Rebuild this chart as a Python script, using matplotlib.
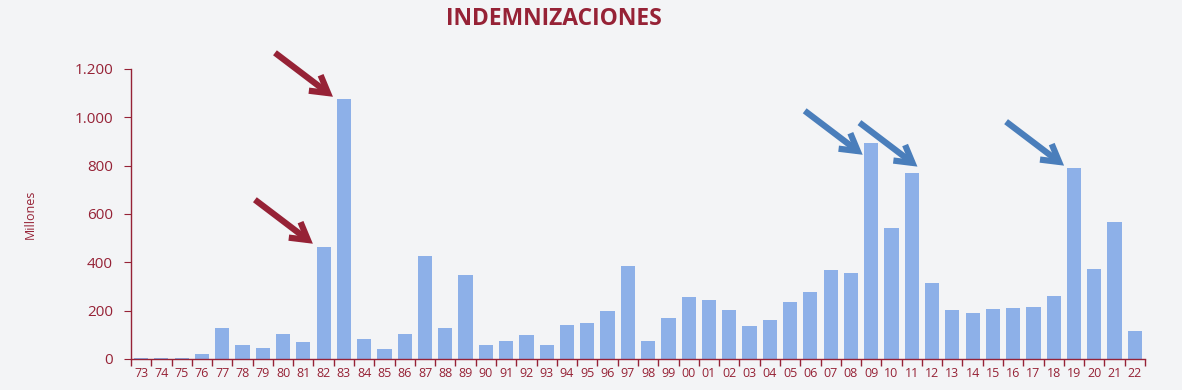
import numpy as np
import matplotlib
matplotlib.use("Agg")
import matplotlib.pyplot as plt
from matplotlib.ticker import FuncFormatter

# Indemnizaciones (millones), 1973-2022
years = ["73", "74", "75", "76", "77", "78", "79", "80", "81", "82",
         "83", "84", "85", "86", "87", "88", "89", "90", "91", "92",
         "93", "94", "95", "96", "97", "98", "99", "00", "01", "02",
         "03", "04", "05", "06", "07", "08", "09", "10", "11", "12",
         "13", "14", "15", "16", "17", "18", "19", "20", "21", "22"]
values = [3, 3, 3, 22, 130, 59, 47, 105, 72, 465,
          1077, 84, 43, 105, 428, 130, 349, 59, 76, 100,
          59, 142, 150, 200, 386, 76, 171, 258, 246, 204,
          138, 163, 237, 279, 370, 357, 895, 543, 771, 316,
          204, 192, 208, 212, 216, 262, 792, 373, 568, 117]

red_marks = ["82", "83"]
blue_marks = ["09", "11", "19"]

BG = "#F3F4F6"
BAR = "#8DB0E8"
DARK_RED = "#962236"
BLUE = "#4A7EBB"

# where each arrow tip sits relative to the bar top (x in categories, y in millones)
tip_shift = {"82": (-0.53, 12), "83": (-0.54, 8),
             "09": (-0.42, -50), "11": (0.28, 25), "19": (-0.49, 8)}

plt.rcParams["font.family"] = ["Open Sans", "DejaVu Sans"]

fig = plt.figure(figsize=(11.82, 3.90), dpi=100, facecolor=BG)
ax = fig.add_axes([0.1108, 0.0795, 0.8579, 0.7436], facecolor=BG)

x = np.arange(len(years))
ax.bar(x, values, width=0.7, color=BAR, zorder=2)

ax.set_xlim(-0.5, len(years) - 0.5)
ax.set_ylim(0, 1200)
ax.set_yticks(np.arange(0, 1201, 200))
ax.yaxis.set_major_formatter(FuncFormatter(lambda v, p: f"{int(v):,}".replace(",", ".")))

ax.set_xticks(x)
ax.set_xticklabels(years)
ax.set_xticks(np.arange(-0.5, len(years)), minor=True)
ax.tick_params(axis="x", which="major", length=0, pad=6, labelsize=9, labelcolor=DARK_RED)
ax.tick_params(axis="x", which="minor", length=5, color=DARK_RED, width=1)
ax.tick_params(axis="y", length=5, color=DARK_RED, labelsize=11, labelcolor=DARK_RED, pad=8)

for side in ["top", "right"]:
    ax.spines[side].set_visible(False)
for side in ["left", "bottom"]:
    ax.spines[side].set_color(DARK_RED)
    ax.spines[side].set_linewidth(1)

ax.set_ylabel("Millones", color=DARK_RED, fontsize=9, labelpad=27)

fig.text(0.469, 0.952, "INDEMNIZACIONES", ha="center", va="center",
         fontsize=16.5, fontweight="bold", color=DARK_RED)

# arrows pointing to the highlighted bars
for marks, col in [(red_marks, DARK_RED), (blue_marks, BLUE)]:
    for m in marks:
        i = years.index(m)
        dx, dy = tip_shift[m]
        ax.annotate("", xy=(i + dx, values[i] + dy), xycoords="data",
                    xytext=(-58, 44), textcoords="offset pixels",
                    arrowprops=dict(arrowstyle="->, head_length=1.2, head_width=0.7",
                                    color=col, lw=4.5, shrinkA=0, shrinkB=0,
                                    joinstyle="miter", capstyle="butt"),
                    annotation_clip=False, zorder=3)

fig.savefig("out.png", dpi=100, facecolor=BG)
